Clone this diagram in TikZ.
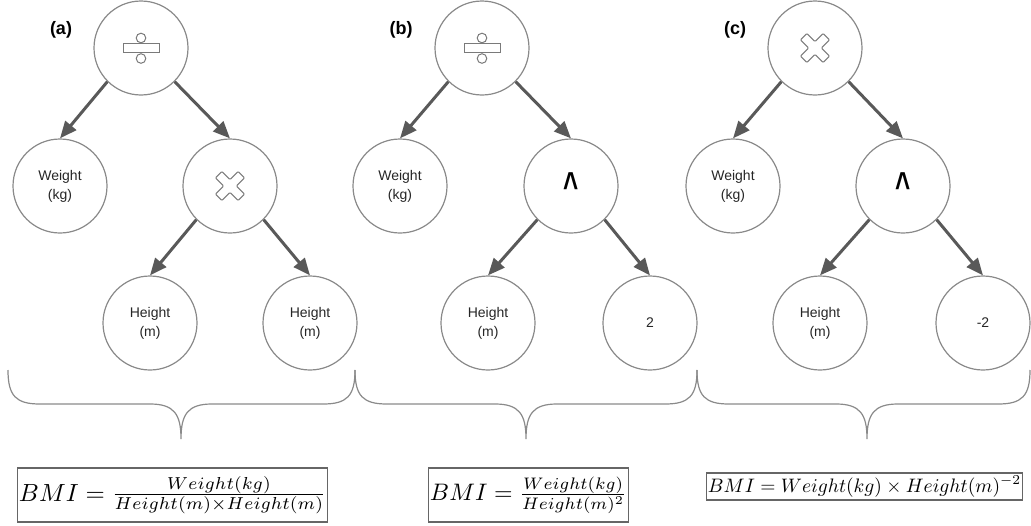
\documentclass[tikz,border=0pt]{standalone}
\usepackage{fontspec}
\setmainfont{Liberation Sans}
\usepackage{graphicx}
\usetikzlibrary{arrows.meta}
\definecolor{circ}{HTML}{8A8A8A}
\definecolor{arr}{HTML}{595959}
\definecolor{symb}{HTML}{7A7A7A}
\begin{document}
\begin{tikzpicture}[x=1pt,y=-1pt,
  tnode/.style={circle,draw=circ,line width=1.2pt,minimum size=94pt,inner sep=0pt,
    font=\fontsize{14}{19}\selectfont,align=center,text=black!85},
  arrowline/.style={draw=arr,line width=3pt,-{Triangle[length=17pt,width=14pt]}},
  bracepath/.style={draw=circ,line width=1.2pt},
  symbline/.style={draw=symb,line width=1pt},
  formbox/.style={draw=black!60,line width=1.2pt,inner xsep=1.5pt,inner ysep=1pt},
  paneltag/.style={font=\bfseries\fontsize{18}{20}\selectfont},
  crossmark/.pic={\draw[symbline,rounded corners=1pt,rotate=45]
      (4.5,4.5) -- (4.5,16) -- (-4.5,16) -- (-4.5,4.5) -- (-16,4.5) -- (-16,-4.5)
      -- (-4.5,-4.5) -- (-4.5,-16) -- (4.5,-16) -- (4.5,-4.5) -- (16,-4.5) -- (16,4.5) -- cycle;},
  divmark/.pic={\draw[symbline] (-18,-4.5) rectangle (18,4.5);
      \draw[symbline] (0,-10) circle (4.8);
      \draw[symbline] (0,10.5) circle (4.8);},
  caret/.style={font=\bfseries\fontsize{26}{26}\selectfont}]
\useasboundingbox (0,0) rectangle (1031,525);

% ---------- panel (a)
\node[paneltag] (la) at (61,30) {(a)};
\node[tnode] (atop) at (141,48) {};
\pic at (atop.center) {divmark};
\node[tnode] (aw) at (60,186) {Weight\\(kg)};
\node[tnode] (ax) at (230,186) {};
\pic at (ax.center) {crossmark};
\node[tnode] (ah1) at (150,323) {Height\\(m)};
\node[tnode] (ah2) at (310,323) {Height\\(m)};
\draw[arrowline] (atop.south west) -- (aw.north);
\draw[arrowline] (atop.south east) -- (ax.north);
\draw[arrowline] (ax.south west) -- (ah1.north);
\draw[arrowline] (ax.south east) -- (ah2.north);

% ---------- panel (b)
\node[paneltag] (lb) at (401,30) {(b)};
\node[tnode] (btop) at (482,48) {};
\pic at (btop.center) {divmark};
\node[tnode] (bw) at (400,186) {Weight\\(kg)};
\node[tnode] (bp) at (571,186) {};
\node[caret] (bpc) at (571,186) {\scalebox{1}[1.5]{\textasciicircum}};
\node[tnode] (bh) at (488,323) {Height\\(m)};
\node[tnode] (b2) at (650,323) {2};
\draw[arrowline] (btop.south west) -- (bw.north);
\draw[arrowline] (btop.south east) -- (bp.north);
\draw[arrowline] (bp.south west) -- (bh.north);
\draw[arrowline] (bp.south east) -- (b2.north);

% ---------- panel (c)
\node[paneltag] (lc) at (735,30) {(c)};
\node[tnode] (ctop) at (815,48) {};
\pic at (ctop.center) {crossmark};
\node[tnode] (cw) at (733,186) {Weight\\(kg)};
\node[tnode] (cp) at (903,186) {};
\node[caret] (cpc) at (903,186) {\scalebox{1}[1.5]{\textasciicircum}};
\node[tnode] (ch) at (820,323) {Height\\(m)};
\node[tnode] (cm2) at (983,323) {-2};
\draw[arrowline] (ctop.south west) -- (cw.north);
\draw[arrowline] (ctop.south east) -- (cp.north);
\draw[arrowline] (cp.south west) -- (ch.north);
\draw[arrowline] (cp.south east) -- (cm2.north);

% ---------- braces
\draw[bracepath] (8,370) .. controls (8,396) and (16,404) .. (40,404) -- (150,404)
  .. controls (174,404) and (181,414) .. (181,439)
  .. controls (181,414) and (188,404) .. (212,404) -- (323,404)
  .. controls (347,404) and (355,396) .. (355,370);
\draw[bracepath] (355,370) .. controls (355,396) and (363,404) .. (387,404) -- (495,404)
  .. controls (519,404) and (526,414) .. (526,439)
  .. controls (526,414) and (533,404) .. (557,404) -- (665,404)
  .. controls (689,404) and (697,396) .. (697,370);
\draw[bracepath] (697,370) .. controls (697,396) and (705,404) .. (729,404) -- (836,404)
  .. controls (860,404) and (867,414) .. (867,439)
  .. controls (867,414) and (874,404) .. (898,404) -- (998,404)
  .. controls (1022,404) and (1030,396) .. (1030,370);

% ---------- formulas
\node[formbox,minimum height=54pt] (fa) at (172.5,495) {\resizebox{307pt}{!}{$BMI = \frac{Weight(kg)}{Height(m)\times Height(m)}$}};
\node[formbox,minimum height=54pt] (fb) at (528.5,495) {\resizebox{197pt}{!}{$BMI = \frac{Weight(kg)}{Height(m)^2}$}};
\node[formbox,minimum height=27pt] (fc) at (864.5,486.5) {\resizebox{313pt}{!}{$BMI = Weight(kg) \times Height(m)^{-2}$}};
\end{tikzpicture}
\end{document}
